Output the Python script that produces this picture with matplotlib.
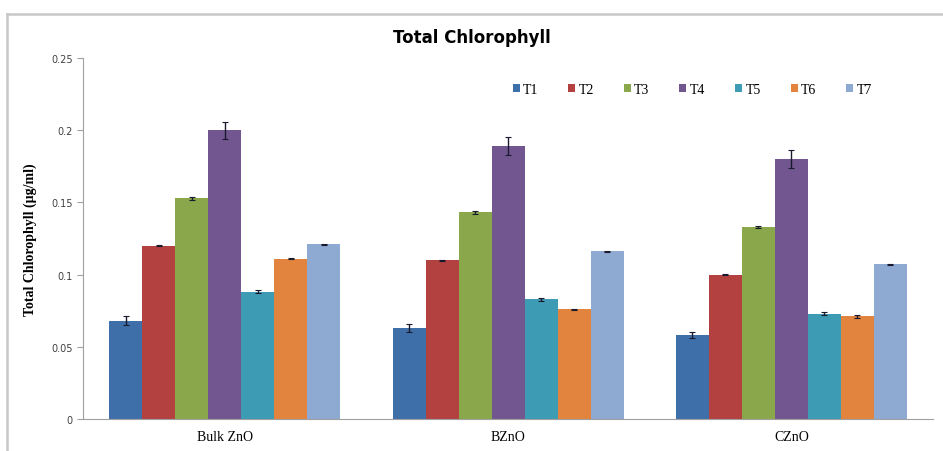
import numpy as np
import matplotlib.pyplot as plt
from matplotlib.lines import Line2D

groups = ["Bulk ZnO", "BZnO", "CZnO"]
treatments = ["T1", "T2", "T3", "T4", "T5", "T6", "T7"]

# mean total chlorophyll per treatment, one list per group
bulk_zno = [0.068, 0.120, 0.153, 0.200, 0.088, 0.111, 0.121]
b_zno = [0.063, 0.110, 0.143, 0.189, 0.083, 0.076, 0.116]
c_zno = [0.058, 0.100, 0.133, 0.180, 0.073, 0.071, 0.107]

bulk_err = [0.003, 0.0004, 0.001, 0.006, 0.001, 0.0004, 0.0004]
b_err = [0.0025, 0.0003, 0.001, 0.006, 0.001, 0.0004, 0.0004]
c_err = [0.002, 0.0003, 0.0008, 0.006, 0.001, 0.001, 0.0004]

colors = ["#3f6fa9", "#b3413f", "#8aa84b", "#71568f", "#3e9bb4", "#e2843d", "#8eaad2"]
serif = "Liberation Serif"

values = np.array([bulk_zno, b_zno, c_zno])
errors = np.array([bulk_err, b_err, c_err])

fig = plt.figure(figsize=(9.43, 4.52), dpi=100)

# chart border (top and left edges only)
fig.lines.append(Line2D([0.0074, 1.0], [0.967, 0.967], transform=fig.transFigure,
                        color="#c8c8c8", linewidth=1.8))
fig.lines.append(Line2D([0.0074, 0.0074], [0.0, 0.967], transform=fig.transFigure,
                        color="#c8c8c8", linewidth=1.8))

ax = fig.add_axes([0.088, 0.0708, 0.9015, 0.7987])

x = np.arange(len(groups))
width = 0.815 / len(treatments)
for i, t in enumerate(treatments):
    pos = x - 0.815 / 2 + width * (i + 0.5)
    ax.bar(pos, values[:, i], width, color=colors[i], label=t,
           yerr=errors[:, i], capsize=2.5,
           error_kw=dict(ecolor="#1a1a2e", elinewidth=1.0, capthick=0.8))

ax.set_xlim(-0.5, 2.5)
ax.set_ylim(0, 0.25)
ax.set_yticks([0, 0.05, 0.1, 0.15, 0.2, 0.25])
ax.set_yticklabels(["0", "0.05", "0.1", "0.15", "0.2", "0.25"],
                   fontsize=7, color="#404040")
ax.set_xticks(x)
ax.set_xticklabels(groups, family=serif, fontsize=10)
ax.tick_params(axis="x", length=0, pad=8)
ax.tick_params(axis="y", length=4, color="#a0a0a0", direction="out")

for s in ["top", "right"]:
    ax.spines[s].set_visible(False)
for s in ["left", "bottom"]:
    ax.spines[s].set_color("#a0a0a0")

ax.set_ylabel("Total Chlorophyll (\u00b5g/ml)", family=serif,
              fontweight="bold", fontsize=10, labelpad=10)

fig.text(0.5, 0.915, "Total Chlorophyll", ha="center", va="center",
         fontsize=12, fontweight="bold")

fig.legend(loc="center", bbox_to_anchor=(0.734, 0.80), ncol=7, frameon=False,
           handlelength=0.5, handleheight=0.5, handletextpad=0.25,
           columnspacing=2.15, prop={"family": serif, "size": 10})

fig.savefig("out.png", dpi=100)
